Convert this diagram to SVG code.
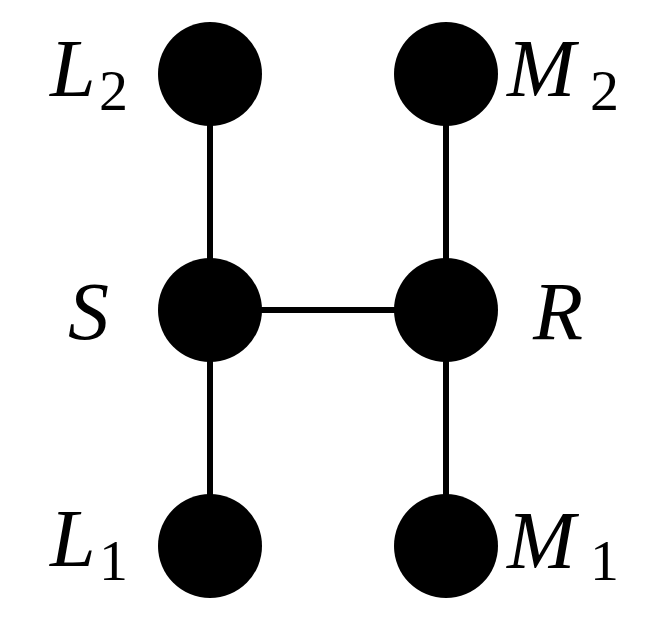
<svg xmlns="http://www.w3.org/2000/svg" width="651" height="632" viewBox="0 0 651 632">
<style>
.n{fill:#000}
.e{stroke:#000;stroke-width:6;fill:none}
.t{font-family:'Liberation Serif',serif;font-style:italic;font-size:82px;fill:#000}
.s{font-family:'Liberation Serif',serif;font-size:58px;fill:#000}
</style>
<rect width="651" height="632" fill="#fff"/>
<g id="connectors">
<line class="e" x1="210" y1="74" x2="210" y2="546"/>
<line class="e" x1="446" y1="74" x2="446" y2="546"/>
<line class="e" x1="210" y1="310" x2="446" y2="310"/>
</g>
<g id="L2"><circle class="n" cx="210" cy="74" r="52"/><text class="t" x="50" y="96">L</text><text class="s" x="99" y="110">2</text></g>
<g id="M2"><circle class="n" cx="446" cy="74" r="52"/><text class="t" x="507" y="96">M</text><text class="s" x="590" y="110">2</text></g>
<g id="S"><circle class="n" cx="210" cy="310" r="52"/><text class="t" x="68" y="339">S</text></g>
<g id="R"><circle class="n" cx="446" cy="310" r="52"/><text class="t" x="533" y="339">R</text></g>
<g id="L1"><circle class="n" cx="210" cy="546" r="52"/><text class="t" x="50" y="566">L</text><text class="s" x="99" y="580">1</text></g>
<g id="M1"><circle class="n" cx="446" cy="546" r="52"/><text class="t" x="507" y="568">M</text><text class="s" x="590" y="580">1</text></g>
</svg>
